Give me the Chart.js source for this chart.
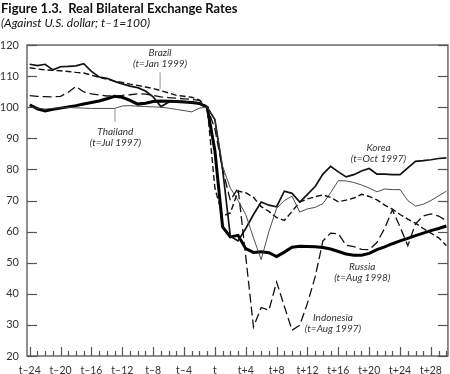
<!DOCTYPE html>
<html>
<head>
<meta charset="utf-8">
<style>
  html, body { margin: 0; padding: 0; background: #ffffff; }
  #chart { display: block; }
</style>
<script src="https://cdn.jsdelivr.net/npm/chart.js@4.4.1/dist/chart.umd.min.js"></script>
</head>
<body>
<canvas id="chart" width="450" height="374"></canvas>
<script>
// months relative to t (t-24 ... t+30)
const MONTHS = [
  -24, -23, -22, -21, -20, -19, -18, -17, -16, -15, -14, -13, -12, -11, -10, -9, -8, -7, -6, -5, -4, -3, -2, -1,
  0, 1, 2, 3, 4, 5, 6, 7, 8, 9, 10, 11, 12, 13, 14, 15, 16, 17, 18, 19, 20, 21, 22, 23, 24, 25, 26, 27, 28, 29, 30,
];
const X_TICKS = [-24, -20, -16, -12, -8, -4, 0, 4, 8, 12, 16, 20, 24, 28];
const Y_TICKS = [20, 30, 40, 50, 60, 70, 80, 90, 100, 110, 120];

const korea = [
  113.8, 113.4, 113.8, 112.0, 113.0, 113.1, 113.3, 114.0, 111.5, 109.7, 109.3, 108.3,
  107.5, 106.8, 106.3, 105.2, 103.3, 100.2, 101.6, 101.9, 101.8, 101.6, 101.3, 100.0,
  96, 80, 58.5, 57, 61, 65.5, 69.5, 68.5, 68, 73, 72.3, 69.5, 72, 74.5, 78.5, 81,
  79.2, 77.6, 78.3, 79.5, 80.3, 78.5, 78.5, 78.3, 78.3, 80.5, 82.6, 82.8, 83.1, 83.5, 83.7,
];
const brazil = [
  112.7, 112.3, 112.0, 111.9, 111.7, 111.5, 111.2, 111.0, 110.3, 109.6, 109.0, 108.4,
  108.0, 107.4, 107.0, 106.5, 106.0, 105.3, 104.6, 103.8, 103.5, 103.2, 102.3, 100.0,
  74, 65, 66, 73, 72.5, 71, 68, 66.5, 64.5, 63.6, 66.5, 69.5, 70.5, 71.2, 71.8, 71,
  69.6, 70.1, 70.8, 72, 71.3, 70.2, 68.5, 67.2, 65.5, 64, 62.7, 61, 59.5, 58, 55.5,
];
const indonesia = [
  103.7, 103.5, 103.4, 103.3, 103.5, 104.8, 106.7, 104.9, 104.3, 103.9, 103.6, 103.7,
  103.8, 104.0, 104.3, 104.2, 103.8, 103.3, 103.1, 102.9, 102.7, 102.5, 102.2, 100.0,
  93, 80, 70, 74, 52, 29.3, 35.6, 34.7, 43.8, 36, 28.3, 29.9, 37, 45.5, 57, 59.5,
  59.3, 55.6, 55.2, 54.3, 54.2, 56.5, 61, 67, 61.5, 55.5, 62.5, 65, 65.7, 65, 63.5,
];
const thailand = [
  100.1, 99.6, 99.4, 99.6, 99.8, 99.9, 99.8, 99.7, 99.6, 99.6, 99.6, 99.6,
  100.4, 100.5, 100.3, 100.2, 100.1, 100.0, 99.7, 99.3, 98.9, 98.5, 99.7, 100.0,
  96, 81, 74, 70, 65.5, 58, 51, 60, 67.5, 70, 71.4, 66.3, 67.3, 67.8, 69, 72.5,
  76.4, 76.3, 75.8, 75, 74, 72.8, 73.7, 73.5, 73.5, 70, 68.2, 68.8, 70, 71.5, 73,
];
const russia = [
  100.8, 99.5, 98.8, 99.3, 99.7, 100.1, 100.5, 101.0, 101.5, 102.0, 102.7, 103.5,
  103.2, 102.2, 101.0, 101.3, 101.8, 102.0, 101.9, 101.8, 101.7, 101.5, 101.2, 100.0,
  86, 61.5, 58.3, 58.8, 54.5, 53.3, 53.5, 53.2, 52, 53.4, 55, 55.3, 55.2, 55.1, 54.9, 54.4,
  53.6, 52.8, 52.4, 52.4, 53, 54.2, 55.1, 56.1, 57, 57.8, 58.7, 59.5, 60.3, 61, 61.8,
];

// series labels: [month, value] anchor of the first text line
const LABELS = [
  { lines: ["Brazil", "(t=Jan 1999)"], at: [-7.1, 117.5] },
  { lines: ["Thailand", "(t=Jul 1997)"], at: [-12.9, 92.1] },
  { lines: ["Korea", "(t=Oct 1997)"], at: [21.2, 87.0] },
  { lines: ["Russia", "(t=Aug 1998)"], at: [19.1, 48.6] },
  { lines: ["Indonesia", "(t=Aug 1997)"], at: [15.3, 32.2] },
];
// leader lines: [month, from value, to value]
const LEADERS = [
  [-7.1, 111.2, 105.9],
  [-12.95, 99.7, 95.3],
];

const toPoints = (values) => values.map((v, i) => ({ x: MONTHS[i], y: v }));

const tickLabel = (v) => {
  if (v === 0) return "t";
  return v < 0 ? "t\u2013" + -v : "t+" + v;
};

const line = (ctx, x1, y1, x2, y2) => {
  ctx.beginPath();
  ctx.moveTo(x1, y1);
  ctx.lineTo(x2, y2);
  ctx.stroke();
};

const framePlugin = {
  id: "frame",
  beforeDatasetsDraw(chart) {
    const { ctx, chartArea: a, scales } = chart;
    ctx.save();
    ctx.strokeStyle = "#6a6a6a";
    ctx.lineWidth = 1.5;
    ctx.strokeRect(a.left, a.top, a.right - a.left, a.bottom - a.top);

    ctx.strokeStyle = "#555";
    ctx.lineWidth = 1.2;
    Y_TICKS.forEach((v) => {
      const py = Math.round(scales.y.getPixelForValue(v)) + 0.5;
      line(ctx, a.left, py, a.left + 10, py);
      line(ctx, a.right - 10, py, a.right, py);
    });
    MONTHS.forEach((m) => {
      const px = Math.round(scales.x.getPixelForValue(m)) + 0.5;
      const h = m % 4 === 0 ? 9 : 5;
      line(ctx, px, a.bottom, px, a.bottom - h);
    });
    ctx.restore();
  },
  afterDraw(chart) {
    const { ctx, scales } = chart;
    ctx.save();
    ctx.fillStyle = "#111";
    ctx.textAlign = "left";
    ctx.textBaseline = "middle";
    ctx.font = "bold 13px Lato";
    ctx.fillText("Figure 1.3.  Real Bilateral Exchange Rates", 1, 9);
    ctx.font = "italic 12px Lato";
    ctx.fillText("(Against U.S. dollar; t\u20131=100)", 1, 23);

    ctx.fillStyle = "#333";
    ctx.textAlign = "center";
    ctx.font = "italic 10px Lato";
    LABELS.forEach(({ lines, at }) => {
      const px = scales.x.getPixelForValue(at[0]);
      const py = scales.y.getPixelForValue(at[1]);
      lines.forEach((txt, i) => ctx.fillText(txt, px, py + i * 10.7));
    });

    ctx.strokeStyle = "#777";
    ctx.lineWidth = 0.8;
    LEADERS.forEach(([m, v1, v2]) => {
      const px = scales.x.getPixelForValue(m);
      line(ctx, px, scales.y.getPixelForValue(v1), px, scales.y.getPixelForValue(v2));
    });
    ctx.restore();
  },
};

const datasets = [
  { label: "Thailand", data: toPoints(thailand), borderColor: "#3a3a3a", borderWidth: 0.9 },
  { label: "Brazil", data: toPoints(brazil), borderColor: "#111", borderWidth: 1.4, borderDash: [6, 3] },
  { label: "Indonesia", data: toPoints(indonesia), borderColor: "#111", borderWidth: 1.3, borderDash: [9, 4] },
  { label: "Korea", data: toPoints(korea), borderColor: "#111", borderWidth: 1.7 },
  { label: "Russia", data: toPoints(russia), borderColor: "#000", borderWidth: 3 },
].map((d) => ({ ...d, pointRadius: 0, tension: 0, fill: false }));

new Chart(document.getElementById("chart"), {
  type: "line",
  data: { datasets },
  plugins: [framePlugin],
  options: {
    responsive: false,
    animation: false,
    devicePixelRatio: 1,
    layout: { padding: { top: 45, right: 1, left: 0, bottom: 0 } },
    plugins: {
      legend: { display: false },
      tooltip: { enabled: false },
    },
    scales: {
      x: {
        type: "linear",
        min: -24.35,
        max: 30.2,
        grid: { display: false, drawTicks: false },
        border: { display: false },
        afterBuildTicks: (axis) => {
          axis.ticks = X_TICKS.map((v) => ({ value: v }));
        },
        afterFit: (scale) => {
          scale.height = 18;
        },
        ticks: {
          autoSkip: false,
          maxRotation: 0,
          padding: 8,
          color: "#333",
          font: { family: "Lato", size: 10.5 },
          callback: (v) => tickLabel(v),
        },
      },
      y: {
        min: 20,
        max: 120,
        grid: { display: false, drawTicks: false },
        border: { display: false },
        afterBuildTicks: (axis) => {
          axis.ticks = Y_TICKS.map((v) => ({ value: v }));
        },
        afterFit: (scale) => {
          scale.width = 27;
        },
        ticks: {
          padding: 8,
          color: "#333",
          font: { family: "Lato", size: 11 },
        },
      },
    },
  },
});
</script>
</body>
</html>
